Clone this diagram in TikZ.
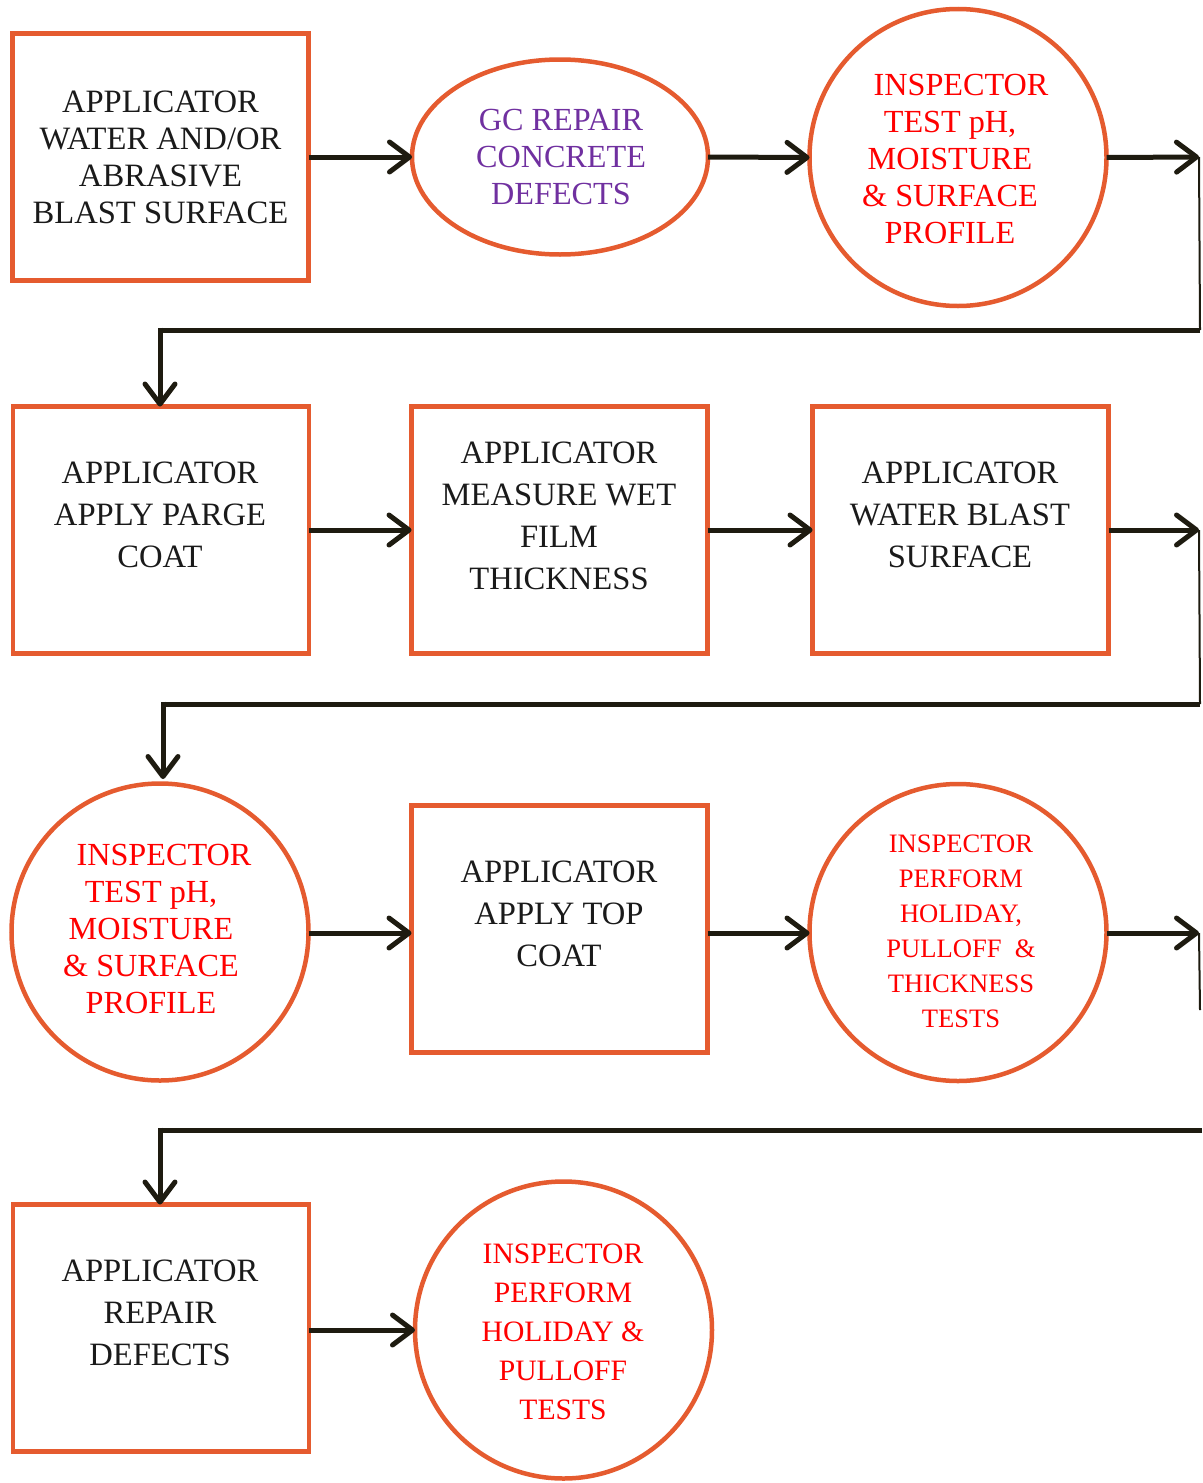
\documentclass[tikz,border=0pt]{standalone}
\usepackage{fontspec}
\setmainfont{Liberation Serif}
\usetikzlibrary{arrows.meta,shapes.geometric}
\definecolor{bord}{HTML}{E55B2F}
\definecolor{ink}{HTML}{1E1B10}
\definecolor{redtxt}{HTML}{FF0000}
\definecolor{purp}{HTML}{7030A0}
\definecolor{blk}{HTML}{1A1A1A}
\begin{document}
\begin{tikzpicture}[x=1pt,y=-1pt,
  boxshape/.style={draw=bord,line width=4.5pt,minimum width=296pt,minimum height=247pt,inner sep=0pt,outer sep=0pt},
  circshape/.style={draw=bord,line width=4.5pt,circle,minimum size=297pt,inner sep=0pt,outer sep=0pt},
  ellshape/.style={draw=bord,line width=4.5pt,ellipse,minimum width=296pt,minimum height=195pt,inner sep=0pt,outer sep=0pt},
  txtA/.style={align=center,inner sep=0pt,text=blk,font=\fontsize{32.6}{37}\selectfont},
  txtB/.style={align=center,inner sep=0pt,text=blk,font=\fontsize{32.6}{42}\selectfont},
  txtR/.style={align=center,inner sep=0pt,text=redtxt,font=\fontsize{32.2}{37}\selectfont},
  conn/.style={draw=ink,line width=5pt,-{Straight Barb[length=20pt,width=30pt,round]}},
  thickline/.style={draw=ink,line width=5pt},
  thinline/.style={draw=ink,line width=2pt},
]
\useasboundingbox (0,0) rectangle (1202,1483);
% row 1
\node[boxshape] (b1) at (160.5,157) {};
\node[txtA] (t1) at (160.5,157) {APPLICATOR\\WATER AND/OR\\ABRASIVE\\BLAST SURFACE};
\node[ellshape] (e2) at (560,157) {};
\node[align=center,inner sep=0pt,text=purp,font=\fontsize{32.2}{37}\selectfont] (t2) at (561,157) {GC REPAIR\\CONCRETE\\DEFECTS};
\node[circshape] (c3) at (958,157.5) {};
\node[txtR] (t3) at (950,159) {\hspace*{22pt}INSPECTOR\\TEST pH,\\MOISTURE\\\& SURFACE\\PROFILE};
% row 2
\node[boxshape] (b4) at (161,530) {};
\node[txtB] (t4) at (160,515) {APPLICATOR\\APPLY PARGE\\COAT};
\node[boxshape] (b5) at (559.5,530) {};
\node[txtB] (t5) at (559,516) {APPLICATOR\\MEASURE WET\\FILM\\THICKNESS};
\node[boxshape] (b6) at (960.5,530) {};
\node[txtB] (t6) at (960,515) {APPLICATOR\\WATER BLAST\\SURFACE};
% row 3
\node[circshape] (c7) at (160,932) {};
\node[txtR] (t7) at (151,929) {\hspace*{26pt}INSPECTOR\\TEST pH,\\MOISTURE\\\& SURFACE\\PROFILE};
\node[boxshape] (b8) at (559.5,929) {};
\node[txtB] (t8) at (559,914) {APPLICATOR\\APPLY TOP\\COAT};
\node[circshape] (c9) at (958,932.5) {};
\node[align=center,inner sep=0pt,text=redtxt,font=\fontsize{26.6}{35}\selectfont] (t9) at (961,931) {INSPECTOR\\PERFORM\\HOLIDAY,\\PULLOFF\ \ \&\\THICKNESS\\TESTS};
% row 4
\node[boxshape] (b10) at (161,1328) {};
\node[txtB] (t10) at (160,1313) {APPLICATOR\\REPAIR\\DEFECTS};
\node[circshape] (c11) at (563.5,1330) {};
\node[align=center,inner sep=0pt,text=redtxt,font=\fontsize{29.6}{39}\selectfont] (t11) at (563,1332) {INSPECTOR\\PERFORM\\HOLIDAY \&\\PULLOFF\\TESTS};
% coordinates for return lines
\coordinate (r1a) at (1199,157);
\coordinate (r1b) at (1200,330);
\coordinate (r2a) at (1199,530);
\coordinate (r2b) at (1200,704);
\coordinate (r3a) at (1199,933);
\coordinate (r3b) at (1200,1010);
\coordinate (r3c) at (1202,1130);
% row 1 connectors
\draw[conn] (b1.east) -- (e2.west);
\draw[conn] (e2.east) -- (c3.west);
\draw[conn] (c3.east) -- (r1a);
\draw[thinline] (r1a) -- (r1b);
\draw[thickline] (r1b) -- (160,330);
\draw[conn] (160,327.5) -- (b4.north -| 160,0);
% row 2 connectors
\draw[conn] (b4.east) -- (b5.west);
\draw[conn] (b5.east) -- (b6.west);
\draw[conn] (b6.east) -- (r2a);
\draw[thinline] (r2a) -- (r2b);
\draw[thickline] (r2b) -- (163,704);
\draw[conn] (163,701.5) -- (163,779);
% row 3 connectors
\draw[conn] (c7.east |- 0,933) -- (b8.west |- 0,933);
\draw[conn] (b8.east |- 0,933) -- (c9.west |- 0,933);
\draw[conn] (c9.east |- 0,933) -- (r3a);
\draw[thinline] (r3a) -- (r3b);
\draw[thickline] (r3c) -- (160,1130);
\draw[conn] (160,1127.5) -- (b10.north -| 160,0);
% row 4 connector
\draw[conn] (b10.east |- c11) -- (c11.west);
\end{tikzpicture}
\end{document}
